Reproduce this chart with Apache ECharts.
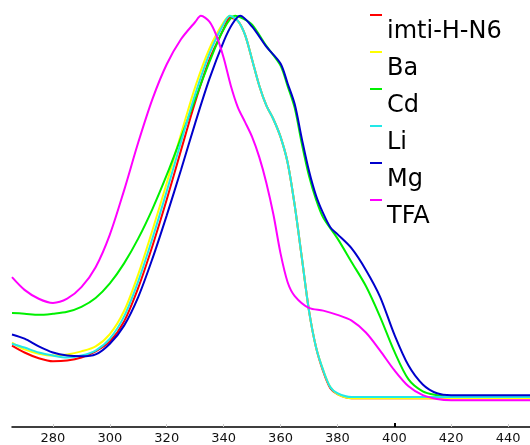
<!DOCTYPE html>
<html>
<head>
<meta charset="utf-8">
<script src="https://cdn.jsdelivr.net/npm/echarts@6/dist/echarts.min.js"></script>
<style>
html,body{margin:0;padding:0;background:#fff;}
#chart{width:530px;height:445px;}
</style>
</head>
<body>
<div id="chart"></div>
<script>
// Series names (legend order)
var seriesNames = ['imti-H-N6', 'Ba', 'Cd', 'Li', 'Mg', 'TFA'];
var seriesColors = ['#ff0000', '#ffff00', '#00f000', '#22e8e8', '#0000cc', '#ff00ff'];
// x tick labels (wavelength, nm)
var xTicks = [280, 300, 320, 340, 360, 380, 400, 420, 440];

// wavelength grid shared by imti-H-N6, Ba and Li
var liX = [265.6, 270, 275, 280, 285, 290, 295, 300, 305, 310, 315, 320, 325, 330, 335, 340, 342.2, 345, 347.5, 350, 352.5, 355, 357.5, 360, 362.5, 365, 367.5, 370, 372.5, 375, 377.5, 380, 385, 447.7];

// imti-H-N6 (red)
var redY = [0.142, 0.124, 0.109, 0.101, 0.103, 0.111, 0.127, 0.153, 0.205, 0.293, 0.402, 0.522, 0.650, 0.776, 0.886, 0.966, 0.995, 0.987, 0.951, 0.886, 0.819, 0.767, 0.731, 0.685, 0.618, 0.506, 0.370, 0.233, 0.137, 0.075, 0.031, 0.016, 0.005, 0.005];

// Ba (yellow)
var yelY = [0.150, 0.132, 0.121, 0.116, 0.119, 0.127, 0.140, 0.172, 0.232, 0.328, 0.443, 0.565, 0.692, 0.815, 0.915, 0.983, 1.000, 0.987, 0.951, 0.886, 0.819, 0.767, 0.731, 0.685, 0.618, 0.506, 0.370, 0.233, 0.137, 0.078, 0.034, 0.016, 0.005, 0.005];

// Li (cyan)
var cyaY = [0.147, 0.137, 0.124, 0.116, 0.111, 0.116, 0.129, 0.160, 0.218, 0.310, 0.422, 0.544, 0.672, 0.796, 0.902, 0.979, 1.000, 0.987, 0.951, 0.886, 0.819, 0.767, 0.731, 0.685, 0.618, 0.506, 0.370, 0.233, 0.137, 0.078, 0.034, 0.018, 0.008, 0.008];

// Cd (green)
var grnX = [265.6, 270, 275, 280, 285, 290, 295, 300, 305, 310, 315, 320, 325, 330, 335, 340, 344, 347, 350, 355, 360, 362.5, 365, 367.5, 370, 372.5, 375, 380, 385, 390, 395, 400, 405, 410, 415, 420, 447.7];
var grnY = [0.227, 0.225, 0.222, 0.225, 0.230, 0.243, 0.266, 0.304, 0.356, 0.421, 0.498, 0.586, 0.683, 0.783, 0.880, 0.965, 1.000, 0.992, 0.977, 0.922, 0.871, 0.817, 0.760, 0.667, 0.584, 0.522, 0.475, 0.421, 0.359, 0.297, 0.217, 0.127, 0.054, 0.023, 0.013, 0.008, 0.008];

// Mg (blue)
var bluX = [265.6, 270, 275, 280, 285, 290, 295, 300, 305, 310, 315, 320, 325, 330, 335, 340, 343, 345.8, 350, 355, 360, 362.5, 365, 367.5, 370, 372.5, 375, 377.5, 380, 385, 390, 395, 400, 405, 410, 415, 420, 447.7];
var bluY = [0.171, 0.160, 0.140, 0.124, 0.116, 0.114, 0.119, 0.147, 0.194, 0.269, 0.369, 0.481, 0.599, 0.721, 0.836, 0.933, 0.978, 1.000, 0.972, 0.920, 0.876, 0.824, 0.770, 0.680, 0.597, 0.532, 0.486, 0.450, 0.432, 0.395, 0.339, 0.269, 0.171, 0.090, 0.041, 0.018, 0.013, 0.013];

// TFA (magenta)
var magX = [265.6, 270, 275, 280, 285, 290, 295, 300, 305, 310, 315, 320, 325, 330, 332, 335, 337.5, 340, 342.5, 345, 347.5, 350, 352.5, 355, 357.5, 360, 362.5, 365, 370, 375, 380, 385, 390, 395, 400, 405, 410, 415, 420, 447.7];
var magY = [0.320, 0.287, 0.264, 0.253, 0.264, 0.294, 0.346, 0.431, 0.546, 0.671, 0.784, 0.874, 0.939, 0.984, 1.000, 0.985, 0.948, 0.891, 0.819, 0.762, 0.724, 0.685, 0.633, 0.566, 0.483, 0.382, 0.307, 0.271, 0.240, 0.233, 0.222, 0.207, 0.176, 0.129, 0.078, 0.036, 0.013, 0.003, 0.000, 0.000];

var xs = [liX, liX, grnX, liX, bluX, magX];
var ys = [redY, yelY, grnY, cyaY, bluY, magY];

function zip(a, b) {
  var out = [];
  for (var i = 0; i < a.length; i++) out.push([a[i], b[i]]);
  return out;
}

var series = seriesNames.map(function (name, i) {
  return {
    name: name,
    type: 'line',
    xAxisIndex: 0,
    data: zip(xs[i], ys[i]),
    smooth: 0.3,
    showSymbol: false,
    symbol: 'none',
    lineStyle: { color: seriesColors[i], width: 2 },
    itemStyle: { color: seriesColors[i] },
    emphasis: { disabled: true }
  };
});

var chart = echarts.init(document.getElementById('chart'), null, { renderer: 'canvas' });
chart.setOption({
  animation: false,
  backgroundColor: '#ffffff',
  grid: { left: 12, right: 0, top: 0, bottom: 15, containLabel: false },
  legend: {
    orient: 'vertical',
    left: 370,
    top: 14,
    padding: 0,
    itemGap: 2,
    itemWidth: 12,
    itemHeight: 35,
    icon: 'path://M0,0H12V2H0Z M0,34.95H0.01V35H0Z',
    textStyle: { fontSize: 24, fontFamily: 'DejaVu Sans', color: '#000' },
    data: seriesNames
  },
  xAxis: [{
    type: 'value',
    min: 265.6,
    max: 447.7,
    axisLine: { show: true, onZero: false, lineStyle: { color: '#000', width: 1.5 } },
    axisTick: { show: true, inside: true, length: 3, customValues: xTicks, lineStyle: { color: '#cccccc', width: 1 } },
    axisLabel: { show: true, customValues: xTicks, margin: 5, fontSize: 13, fontFamily: 'DejaVu Sans', color: '#111' },
    splitLine: { show: false }
  }, {
    type: 'value',
    position: 'bottom',
    min: 265.6,
    max: 447.7,
    axisLine: { show: false, onZero: false },
    axisTick: { show: true, inside: true, length: 4, customValues: [400], lineStyle: { color: '#000', width: 2 } },
    axisLabel: { show: false },
    splitLine: { show: false }
  }],
  yAxis: {
    type: 'value',
    min: -0.0698,
    max: 1.0413,
    show: false,
    splitLine: { show: false }
  },
  series: series
});
</script>
</body>
</html>
